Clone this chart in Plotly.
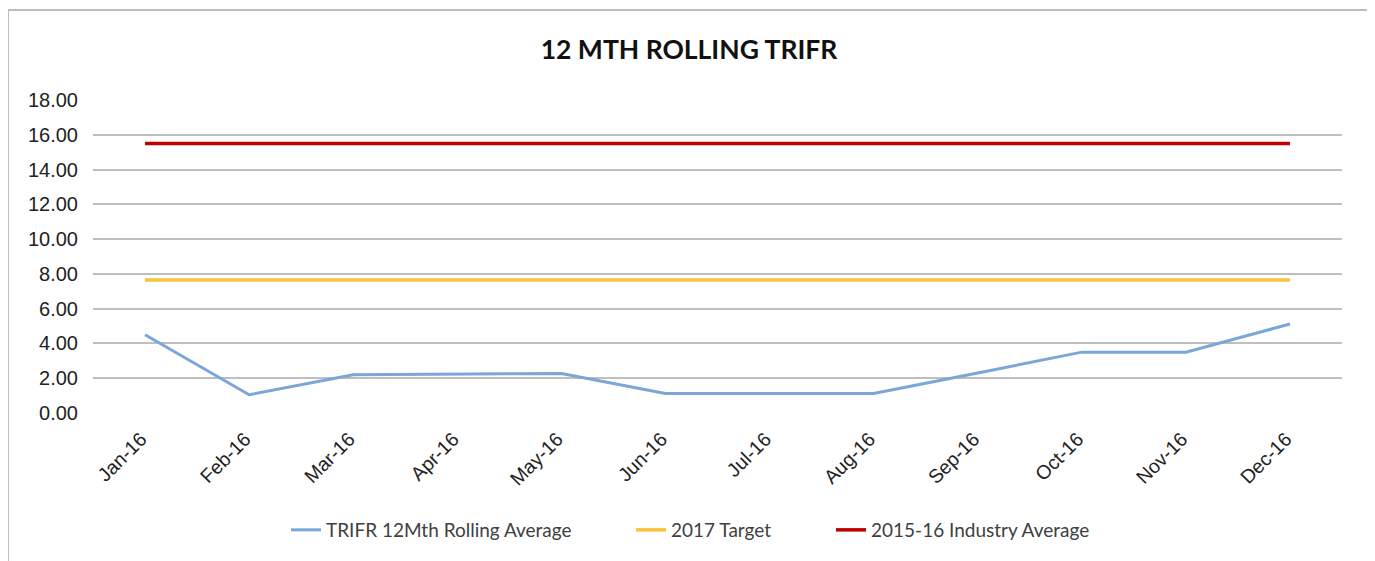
import plotly.graph_objects as go

months = ["Jan-16", "Feb-16", "Mar-16", "Apr-16", "May-16", "Jun-16",
          "Jul-16", "Aug-16", "Sep-16", "Oct-16", "Nov-16", "Dec-16"]
trifr = [4.50, 1.05, 2.20, 2.25, 2.27, 1.12, 1.12, 1.12, 2.30, 3.50, 3.50, 5.12]
target = [7.65] * 12
industry = [15.50] * 12
y_ticks = [0, 2, 4, 6, 8, 10, 12, 14, 16, 18]
y_tick_labels = [f"{v:.2f}" for v in y_ticks]

fig = go.Figure()
fig.add_trace(go.Scatter(x=months, y=trifr, mode="lines", name="TRIFR 12Mth Rolling Average",
                         line=dict(color="#7BA6D8", width=3), legend="legend"))
fig.add_trace(go.Scatter(x=months, y=target, mode="lines", name="2017 Target",
                         line=dict(color="#F8C33A", width=3.5), legend="legend2"))
fig.add_trace(go.Scatter(x=months, y=industry, mode="lines", name="2015-16 Industry Average",
                         line=dict(color="#C00000", width=3.5), legend="legend3"))

PL, PR, PT, PB = 93, 1342, 100, 413  # plot area in page px
W = PR - PL
H = PB - PT
def px_x(p):
    return (p - PL) / W
def px_y(p):
    return (PB - p) / H

leg_common = dict(orientation="h", xanchor="left", yanchor="middle", y=px_y(530),
                  font=dict(family="Lato", size=19, color="#404040"),
                  bgcolor="rgba(0,0,0,0)")

fig.update_layout(
    width=1375, height=561,
    margin=dict(l=PL - 8, r=1375 - PR + 8, t=PT - 8, b=561 - PB + 8),
    paper_bgcolor="white", plot_bgcolor="white",
    title=dict(text="<b>12 MTH ROLLING TRIFR</b>", x=px_x(689), xref="paper",
               y=1 - 42 / 561, yref="container", xanchor="center", yanchor="middle",
               font=dict(family="Lato", size=26.5, color="#111111")),
    showlegend=True,
    legend=dict(leg_common, x=px_x(286)),
    legend2=dict(leg_common, x=px_x(631)),
    legend3=dict(leg_common, x=px_x(831)),
    shapes=[dict(type="rect", xref="paper", yref="paper",
                 x0=px_x(8), x1=px_x(1369),
                 y0=-1.0, y1=px_y(10),
                 line=dict(color="#BDBDBD", width=2), fillcolor="rgba(0,0,0,0)", layer="below")],
)
fig.update_xaxes(type="category", range=[-0.5, 11.5], showgrid=False, showline=False,
                 zeroline=False, tickangle=-45, ticks="", ticklabelstandoff=10,
                 ticklabelshift=-4,
                 tickfont=dict(family="Liberation Sans", size=19.5, color="#222222"))
fig.update_yaxes(range=[0, 18], tickvals=y_ticks, ticktext=y_tick_labels,
                 showgrid=True, gridcolor="#BFBFBF", gridwidth=2, zeroline=False,
                 showline=False, ticks="", ticklabelstandoff=14,
                 tickfont=dict(family="Liberation Sans", size=20, color="#222222"))

fig.write_html("out.html")
